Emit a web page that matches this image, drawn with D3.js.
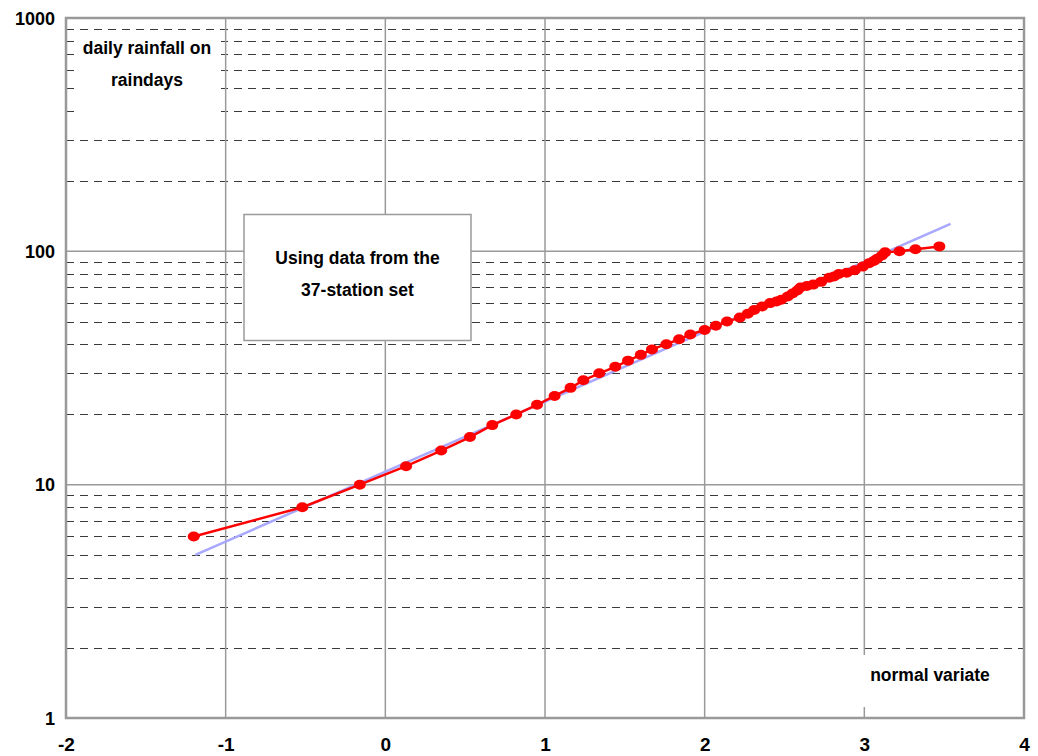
<!DOCTYPE html>
<html><head><meta charset="utf-8">
<script src="https://cdn.jsdelivr.net/npm/d3@7"></script>
<style>
html,body{margin:0;padding:0;background:#fff;}
svg text{font-family:"Liberation Sans",Arial,sans-serif;font-weight:bold;fill:#000;}
</style></head>
<body>
<svg id="chart" width="1038" height="756"></svg>
<script>
// normal variate (x) of each observed rainfall amount
const variate = [-1.20, -0.52, -0.16, 0.13, 0.35, 0.53, 0.67, 0.82, 0.95, 1.06,
  1.16, 1.24, 1.34, 1.44, 1.52, 1.60, 1.67, 1.76, 1.84, 1.91,
  2.00, 2.07, 2.14, 2.22, 2.27, 2.31, 2.36, 2.41, 2.45, 2.48,
  2.52, 2.55, 2.58, 2.60, 2.64, 2.68, 2.73, 2.78, 2.81, 2.84,
  2.89, 2.94, 2.99, 3.03, 3.06, 3.08, 3.11, 3.13, 3.22, 3.32, 3.47];
// daily rainfall on raindays (mm)
const rainfall = [6, 8, 10, 12, 14, 16, 18, 20, 22, 24,
  26, 28, 30, 32, 34, 36, 38, 40, 42, 44,
  46, 48, 50, 52, 54, 56, 58, 60, 61, 62,
  64, 66, 68, 70, 71, 72, 74, 77, 78, 80,
  81, 83, 86, 89, 91, 93, 96, 99, 100, 102, 105];
// fitted straight line (log-normal fit) end points
const fitVariate = [-1.19, 3.54];
const fitRainfall = [5.0, 131];
// axis ticks
const xTicks = [-2, -1, 0, 1, 2, 3, 4];
const xTickLabels = ["-2", "-1", "0", "1", "2", "3", "4"];
const yTicks = [1, 10, 100, 1000];
const yTickLabels = ["1", "10", "100", "1000"];
const minorTicks = [2,3,4,5,6,7,8,9,20,30,40,50,60,70,80,90,200,300,400,500,600,700,800,900];

const svg = d3.select("#chart");
const L = 66, R = 1024, T = 18, B = 718;
const x = d3.scaleLinear().domain([-2, 4]).range([L, R]);
const y = d3.scaleLog().domain([1, 1000]).range([B, T]);

// minor dashed gridlines
svg.append("g").selectAll("line").data(minorTicks).join("line")
  .attr("x1", L).attr("x2", R)
  .attr("y1", d => Math.round(y(d)) + 0.5).attr("y2", d => Math.round(y(d)) + 0.5)
  .attr("stroke", "#3a3a3a").attr("stroke-width", 1)
  .attr("stroke-dasharray", "8,6");

// major horizontal gridlines
svg.append("g").selectAll("line").data([10, 100]).join("line")
  .attr("x1", L).attr("x2", R)
  .attr("y1", d => y(d)).attr("y2", d => y(d))
  .attr("stroke", "#9a9a9a").attr("stroke-width", 1.5);

// vertical gridlines
svg.append("g").selectAll("line").data(xTicks.slice(1, -1)).join("line")
  .attr("x1", d => x(d)).attr("x2", d => x(d))
  .attr("y1", T).attr("y2", B)
  .attr("stroke", "#9a9a9a").attr("stroke-width", 1.5);

// white label boxes covering the grid
svg.append("rect").attr("x", 75).attr("y", 33).attr("width", 146).attr("height", 92).attr("fill", "#fff");
svg.append("rect").attr("x", 862).attr("y", 655).attr("width", 160).attr("height", 52).attr("fill", "#fff");

// fitted line
svg.append("line")
  .attr("x1", x(fitVariate[0])).attr("y1", y(fitRainfall[0]))
  .attr("x2", x(fitVariate[1])).attr("y2", y(fitRainfall[1]))
  .attr("stroke", "#a8a8ff").attr("stroke-width", 2.5);

// data line
const pts = variate.map((v, i) => [v, rainfall[i]]);
svg.append("path").datum(pts)
  .attr("d", d3.line().x(d => x(d[0])).y(d => y(d[1])))
  .attr("fill", "none").attr("stroke", "#ff0000").attr("stroke-width", 2.5);
svg.append("g").selectAll("ellipse").data(pts).join("ellipse")
  .attr("cx", d => x(d[0])).attr("cy", d => y(d[1]))
  .attr("rx", 6).attr("ry", 5).attr("fill", "#ff0000");

// annotation box
svg.append("rect").attr("x", 244).attr("y", 214.5).attr("width", 227).attr("height", 126)
  .attr("fill", "#fff").attr("stroke", "#9a9a9a").attr("stroke-width", 1.5);
svg.append("text").attr("x", 357.5).attr("y", 264).attr("text-anchor", "middle")
  .style("font-size", "17.5px").text("Using data from the");
svg.append("text").attr("x", 357.5).attr("y", 296).attr("text-anchor", "middle")
  .style("font-size", "17.5px").text("37-station set");

// axis titles
svg.append("text").attr("x", 147).attr("y", 54).attr("text-anchor", "middle")
  .style("font-size", "17.5px").text("daily rainfall on");
svg.append("text").attr("x", 147).attr("y", 86).attr("text-anchor", "middle")
  .style("font-size", "17.5px").text("raindays");
svg.append("text").attr("x", 930).attr("y", 681).attr("text-anchor", "middle")
  .style("font-size", "17.5px").text("normal variate");

// frame
svg.append("rect").attr("x", L).attr("y", T).attr("width", R - L).attr("height", B - T)
  .attr("fill", "none").attr("stroke", "#999").attr("stroke-width", 2.5);

// axes (tick labels only)
const xAxis = d3.axisBottom(x).tickValues(xTicks).tickSize(0).tickPadding(0)
  .tickFormat((d, i) => xTickLabels[i]);
const gx = svg.append("g").attr("transform", `translate(0,${B})`).call(xAxis);
gx.select(".domain").remove();
gx.selectAll("text").attr("dy", null).attr("y", 33)
  .style("font-size", "19px").style("font-family", '"Liberation Sans",Arial,sans-serif').style("font-weight", "bold");

const yAxis = d3.axisLeft(y).tickValues(yTicks).tickSize(0).tickPadding(0)
  .tickFormat((d, i) => yTickLabels[i]);
const gy = svg.append("g").attr("transform", `translate(${L},0)`).call(yAxis);
gy.select(".domain").remove();
gy.selectAll("text").attr("x", -11).attr("dy", "0.35em")
  .style("font-size", "18px").style("font-family", '"Liberation Sans",Arial,sans-serif').style("font-weight", "bold");
</script>
</body></html>
